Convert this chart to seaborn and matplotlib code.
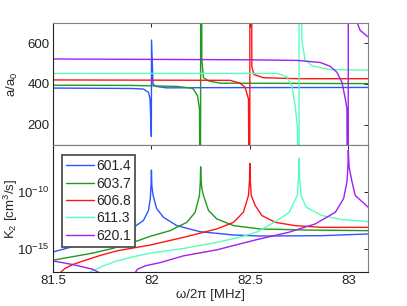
import matplotlib
matplotlib.use("Agg")
import matplotlib.pyplot as plt
import numpy as np
import pandas as pd
import seaborn as sns

# legend labels and colours
series = ["601.4", "603.7", "606.8", "611.3", "620.1"]
colors = ["#3052ff", "#1f9a1f", "#ff1414", "#55ffbb", "#a020f0"]

# top panel: scattering length a/a0 vs frequency (MHz)
f_a_601 = [81.5, 81.9, 81.96, 81.985, 81.993, 81.9995, 82.0005, 82.008, 82.025, 82.076, 82.3, 83.1]
a_601 = [380, 378, 375, 359, 326, 142, 616, 399, 388, 381, 382, 383]

f_a_603 = [81.5, 81.9, 82.129, 82.2, 82.213, 82.234, 82.244, 82.2495, 82.2505, 82.256, 82.264, 82.29, 82.35, 83.1]
a_603 = [394, 393, 388, 380, 375, 342, 278, -600, 3000, 519, 431, 415, 404, 402]

f_a_606 = [81.5, 82.4, 82.45, 82.476, 82.493, 82.4995, 82.5005, 82.51, 82.52, 82.569, 82.74, 83.1]
a_606 = [420, 418, 404, 383, 326, -900, 4000, 487, 447, 431, 426, 426]

f_a_611 = [81.5, 82.637, 82.688, 82.713, 82.73, 82.742, 82.7495, 82.7505, 82.764, 82.78, 82.815, 82.908, 83.1]
a_611 = [452, 452, 436, 391, 294, 180, -1500, 3000, 616, 519, 490, 471, 468]

f_a_620 = [81.5, 82.5, 82.74, 82.857, 82.908, 82.942, 82.968, 82.985, 82.993, 82.9995, 83.0005, 83.044, 83.06, 83.1]
a_620 = [523, 519, 516, 506, 487, 458, 407, 326, 278, -1500, 5000, 704, 664, 632]

# bottom panel: log10 of K2 (cm^3/s) vs frequency (MHz)
f_k_601 = [81.5, 81.54, 81.7, 81.8, 81.897, 81.959, 81.985, 81.994, 81.998, 82.0, 82.002, 82.006,
           82.01, 82.027, 82.061, 82.129, 82.247, 82.417, 82.552, 82.866, 83.1]
logk_601 = [-15.25, -15.06, -14.3, -13.8, -13.23, -12.5, -11.62, -10.6, -9.4, -8.08, -9.4, -10.0,
            -10.4, -11.47, -12.21, -12.94, -13.47, -13.76, -13.85, -13.82, -13.67]

f_k_603 = [81.5, 81.544, 81.7, 81.8, 81.897, 81.993, 82.095, 82.18, 82.222, 82.244, 82.248, 82.25,
           82.252, 82.256, 82.264, 82.29, 82.332, 82.417, 82.552, 82.8, 83.1]
logk_603 = [-15.97, -15.83, -15.35, -14.95, -14.47, -13.88, -13.38, -12.65, -11.77, -10.29, -9.2, -7.79,
            -8.9, -9.7, -10.29, -11.62, -12.35, -12.94, -13.23, -13.33, -13.38]

f_k_606 = [81.5, 81.535, 81.56, 81.6, 81.654, 81.74, 81.824, 81.993, 82.162, 82.332, 82.417, 82.467,
           82.493, 82.498, 82.5, 82.502, 82.507, 82.527, 82.561, 82.629, 82.73, 82.866, 83.1]
logk_606 = [-17.6, -17.1, -16.7, -16.35, -16.03, -15.55, -15.15, -14.64, -13.97, -13.23, -12.65, -11.77,
            -10.29, -9.0, -7.49, -9.0, -10.29, -11.17, -12.06, -12.65, -12.94, -13.09, -13.09]

f_k_611 = [81.5, 81.52, 81.675, 81.69, 81.75, 81.824, 81.9, 81.993, 82.162, 82.332, 82.45, 82.54,
           82.629, 82.7, 82.741, 82.747, 82.75, 82.753, 82.76, 82.786, 82.866, 82.967, 83.1]
logk_611 = [-16.9, -17.4, -17.4, -17.0, -16.5, -16.03, -15.7, -15.35, -14.94, -14.41, -13.95, -13.47,
            -12.59, -11.77, -10.29, -8.8, -7.05, -8.8, -10.29, -11.32, -12.06, -12.41, -12.59]

f_k_620 = [81.5, 81.6, 81.7, 81.74, 81.76, 81.9, 81.917, 81.93, 81.97, 82.044, 82.162, 82.332, 82.527,
           82.696, 82.832, 82.934, 82.976, 82.993, 82.998, 83.0, 83.004, 83.019, 83.035, 83.1]
logk_620 = [-16.03, -16.35, -16.75, -17.1, -17.6, -17.5, -17.06, -16.75, -16.45, -16.18, -15.59, -15.06, -14.2,
            -13.53, -12.79, -11.77, -10.58, -9.12, -7.8, -6.32, -7.8, -9.12, -10.29, -11.32]

f_a = [f_a_601, f_a_603, f_a_606, f_a_611, f_a_620]
a_vals = [a_601, a_603, a_606, a_611, a_620]
f_k = [f_k_601, f_k_603, f_k_606, f_k_611, f_k_620]
logk = [logk_601, logk_603, logk_606, logk_611, logk_620]

df_a = pd.concat([pd.DataFrame({"freq": f, "a": v, "B": s})
                  for f, v, s in zip(f_a, a_vals, series)], ignore_index=True)
df_k = pd.concat([pd.DataFrame({"freq": f, "K2": 10.0 ** np.array(v), "B": s})
                  for f, v, s in zip(f_k, logk, series)], ignore_index=True)

sns.set_style("white")
plt.rcParams["font.family"] = ["Liberation Sans", "DejaVu Sans"]
plt.rcParams["mathtext.fontset"] = "custom"
plt.rcParams["mathtext.rm"] = "Liberation Sans"
plt.rcParams["mathtext.it"] = "Liberation Sans:italic"
plt.rcParams["font.size"] = 9.5

palette = dict(zip(series, colors))
W, H = 407, 306
fig = plt.figure(figsize=(W / 100, H / 100), dpi=100)
ax_top = fig.add_axes([53 / W, (H - 145) / H, 315 / W, 122 / H])
ax_bot = fig.add_axes([53 / W, (H - 272) / H, 315 / W, 127 / H])

sns.lineplot(data=df_a, x="freq", y="a", hue="B", palette=palette, sort=False,
             estimator=None, ax=ax_top, legend=False, linewidth=1.0)
ax_bot.set_yscale("log")
sns.lineplot(data=df_k, x="freq", y="K2", hue="B", palette=palette, sort=False,
             estimator=None, ax=ax_bot, legend=False, linewidth=1.0)

xticks = [81.5, 82, 82.5, 83]
for ax in (ax_top, ax_bot):
    ax.set_xlim(81.5, 83.1)
    ax.set_xticks(xticks)
    ax.tick_params(direction="in", length=3, width=0.7, top=True, right=True,
                   colors="#222222", labelsize=9.5, pad=2.5)
    ax.minorticks_off()
    for side in ("top", "right"):
        ax.spines[side].set_color("#808080")
    for side in ("left", "bottom"):
        ax.spines[side].set_color("#222222")
    for sp in ax.spines.values():
        sp.set_linewidth(0.8)

ax_top.set_ylim(100, 700)
ax_top.set_yticks([200, 400, 600])
ax_top.set_xticklabels([])
ax_top.set_xlabel("")
ax_top.set_ylabel(r"a/a$_\mathrm{0}$", fontsize=9.5)
ax_top.yaxis.set_label_coords(-0.105, 0.5)

ax_bot.set_ylim(1e-17, 10 ** -5.88)
ax_bot.set_yticks([1e-15, 1e-10])
ax_bot.set_yticklabels([r"$\mathrm{10^{-15}}$", r"$\mathrm{10^{-10}}$"])
ax_bot.minorticks_off()
ax_bot.set_xticklabels(["81.5", "82", "82.5", "83"])
ax_bot.set_xlabel("ω/2π [MHz]", fontsize=9.5, labelpad=1)
ax_bot.set_ylabel(r"K$_\mathrm{2}$ [cm$^\mathrm{3}$/s]", fontsize=9.5)
ax_bot.yaxis.set_label_coords(-0.105, 0.5)

handles = ax_bot.get_lines()[:5]
leg = ax_bot.legend(handles, series, loc="upper left", bbox_to_anchor=(0.028, 0.921),
                    borderaxespad=0, fancybox=False, framealpha=1, fontsize=10,
                    handlelength=2.0, handletextpad=0.2, labelspacing=0.24,
                    borderpad=0.3)
leg.get_frame().set_edgecolor("#505050")
leg.get_frame().set_linewidth(1.3)

fig.savefig("out.png", dpi=100)
